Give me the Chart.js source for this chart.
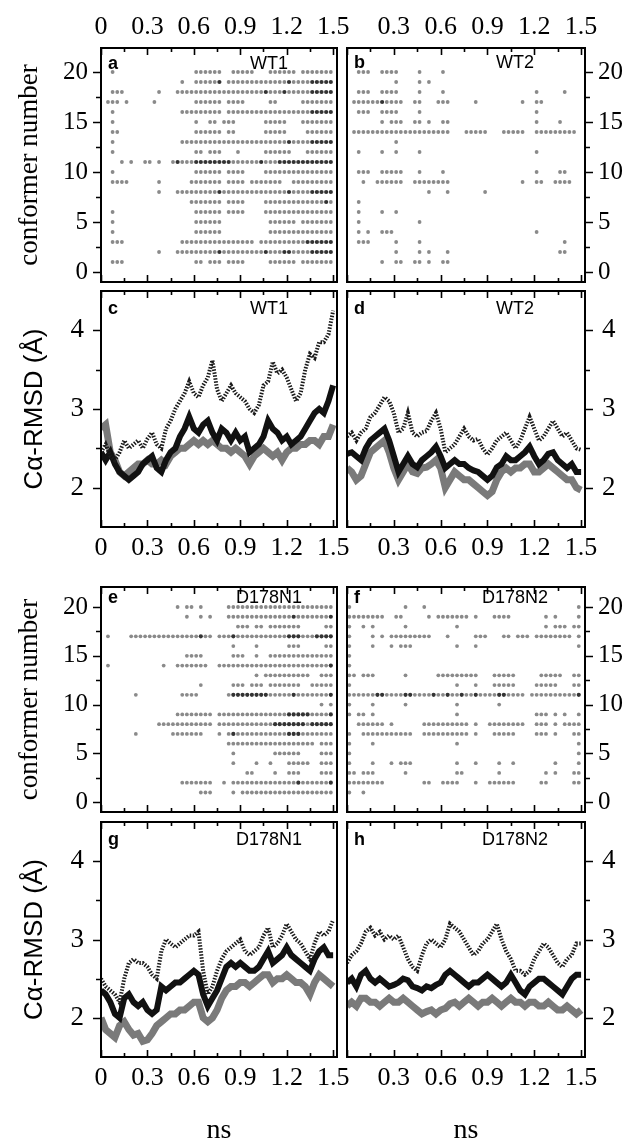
<!DOCTYPE html>
<html>
<head>
<meta charset="utf-8">
<script src="https://cdn.jsdelivr.net/npm/chart.js@4.4.1/dist/chart.umd.min.js"></script>
<style>
  html, body { margin: 0; padding: 0; background: #fff; }
  #wrap { position: relative; width: 630px; height: 1142px; overflow: hidden; background: #fff; }
  #wrap canvas { position: absolute; }
</style>
</head>
<body>
<div id="wrap"></div>
<script>
// ---- data ----

// sample times of the RMSD traces (ns)
const time = [0,0.03,0.06,0.09,0.12,0.15,0.18,0.21,0.24,0.27,0.3,0.33,0.36,0.39,0.42,0.45,0.48,0.51,0.54,0.57,0.6,
  0.63,0.66,0.69,0.72,0.75,0.78,0.81,0.84,0.87,0.9,0.93,0.96,0.99,1.02,1.05,1.08,1.11,1.14,1.17,1.2,
  1.23,1.26,1.29,1.32,1.35,1.38,1.41,1.44,1.47,1.5];

// centre of each time bin in the conformer panels (ns)
const binTimes = [0.015,0.045,0.075,0.105,0.135,0.165,0.195,0.225,0.255,0.285,0.315,0.345,0.375,0.405,0.435,
  0.465,0.495,0.525,0.555,0.585,0.615,0.645,0.675,0.705,0.735,0.765,0.795,0.825,0.855,0.885,0.915,0.945,
  0.975,1.005,1.035,1.065,1.095,1.125,1.155,1.185,1.215,1.245,1.275,1.305,1.335,1.365,1.395,1.425,1.455,1.485];

// conformer ids, top row first
const conformerIds = [20,19,18,17,16,15,14,13,12,11,10,9,8,7,6,5,4,3,2,1];

// tick labels
const timeLabels = [0, 0.3, 0.6, 0.9, 1.2, 1.5];
const timeLabelsRight = [0.3, 0.6, 0.9, 1.2, 1.5];
const timeMinor = [0, 0.15, 0.3, 0.45, 0.6, 0.75, 0.9, 1.05, 1.2, 1.35, 1.5];
const conformerTicks = [0, 5, 10, 15, 20];
const conformerMinor = [2.5, 7.5, 12.5, 17.5];
const rmsdTicks = [2, 3, 4];
const rmsdMinor = [2.5, 3.5];

// conformer occupancy: one string per conformer, one char per bin ('o' visited, '#' many hits)
const wt1Conformers = [
  '..o....... .......... oooooo..oo ooo...oooo oo.ooooooo',
  '.......... .......o.. ooooo#.ooo oooooooooo #oooo#####',
  '..ooo..... ..o...oooo oooooooooo ooooo#ooo# ooooo#####',
  '.ooo.o.... .o........ oooooo.ooo o.....oo.. ...ooooooo',
  '..o....... .......ooo oooooo.ooo oooooooooo ooooo#####',
  '..o....... .......... o..oo.ooo. .....ooooo ...ooooooo',
  '..oo...... .......... oooooo.oo. .....ooooo ....oooooo',
  '..o....... .......ooo oooooooooo oooooooooo #oooo#####',
  '..o....... .......... oo.ooo...o .....ooooo o...oooooo',
  '....o.o..o o.o..o#ooo ########oo oooo#ooo## ##########',
  '..o....... .......... oooooo.ooo o....ooooo oooooooooo',
  '..oooo.... ..o......o oooooo.ooo o.ooooooo. .ooooooooo',
  '.......... ..o...oooo ooooo#oooo oooooooooo #oooo#####',
  '.......... .........o oooooo.ooo o....ooooo oooooooo#o',
  '..o....... .......... oooooo.ooo o....ooooo oooooooooo',
  '..o....... .......... oooooo.... ......oooo oo.ooooooo',
  '..o....... .......... oooooo.... ......oooo oooooooooo',
  '..ooo..... .......ooo oooooooooo ooo.oooooo oooo######',
  '.......... ..o...oooo ooooo#oooo ooooo#ooo# #oooo#####',
  '..ooo..... .......... oo.ooo.ooo o.....oooo oo.ooooooo'
];
const wt2Conformers = [
  '..ooo..ooo o....o.... o......... .......... ..........',
  '.......... o....o.o.. .......... .......... ..........',
  '..ooo..ooo o....o.... o......... .......... o.....o...',
  '.oooooo#oo oo..oo...o oo.....o.. .......o.. oo........',
  '..ooo..ooo o....o.... .......... .......... o.........',
  '.......o.o oo..oo.o.. oo........ .......... o....o....',
  '.ooooooooo oooooooooo oo...ooooo ...ooooo.. ooooooooo.',
  '.......... o......... .......... .......... ..........',
  '..o....o.. o....o.... .......... .......... o.........',
  '.......... .......... .......... .......... ..........',
  '..ooo..ooo oo...o.... o......... .......... o....oo...',
  '...o..oooo oo..oooooo oo........ .......o.. oo..oooo..',
  '.......... .......o.. .o.......o .......... ..........',
  '..o....... .......... .......... .......... ..........',
  '..o....o.. o......... .......... .......... ..........',
  '..o....... .....o.... .......... .......... ..........',
  '..o.o..ooo .......... .......... .......... o.........',
  '..ooo..... o....o.... .......... .......... ......o...',
  '.......... o....o.o.. .o........ .......... .....oo...',
  '.......o.. oo..oo.o.. oo........ .......... ..........'
];
const d178n1Conformers = [
  '.......... ......o.oo .o.....ooo oooooooooo oooooooooo',
  '.......... ........o. .o.o...ooo oooooooooo o#ooooooo#',
  '.......... .......... .........o oo.oo.oooo ooo.....oo',
  '.o....oooo oooooooooo o#oo.ooo#o oooooooooo ###ooo####',
  '.......... .......... ........o. ...o...... ooo.....oo',
  '.......... ........oo oo......oo o..o..oooo oooooooooo',
  '.o........ ...o..oooo ooo..ooooo oooooooooo ooooooooo#',
  '.......... .......... .......... ...o.ooooo ooooo..ooo',
  '.......... .......... .o......oo o.ooo.oooo ooo..ooooo',
  '.......o.. .......ooo o......o## ######oooo o#ooooooo#',
  '.......... .......... .......... .......... .......o.o',
  '.......... ......oooo oooo.ooooo oooooooooo #####oooo#',
  '.......... ..oooooooo oooo.ooooo ooooooo### ####o#####',
  '.......o.. .....ooooo oo...o.o#o oooooooooo ###ooooooo',
  '.......... .......... .......ooo oooooooooo oooooo.ooo',
  '.......... .......... ........o. .......ooo ooo....ooo',
  '.......... .......... ........o. ...o..o... ooooo..ooo',
  '.......... .......... .......... .oo....o.. ooo....ooo',
  '.......... .......ooo oooo..o.oo oooooooooo oo#oooooo#',
  '.......... .......... .ooo....o. oooooooooo oooooooooo'
];
const d178n2Conformers = [
  'o......... ..o...o... .......... .......... .........o',
  'oooooooo.. oo.....o.o oooooo.o.. .oooo..... ..o.o....o',
  'o..o.o.... ..o....... ...o...... .......... ..o.ooo.oo',
  'o....o.o.o oooooooo.. .o.....ooo ...oo.ooo. oooooooo.o',
  'o....o...o .ooo...... ...o...o.. .......... .........o',
  'o......... .......... .......... .......... ..........',
  'o......... .......... .......... .......... ..........',
  'oo.ooo.... ..o......o oooooooo.. .ooooo.... .ooooo..oo',
  'o......... .......... ...o...o.. .ooooo.... ooooo...oo',
  'oooooo##oo oo##oooo#o o#oo#oo#oo oo##oooo.o ooooooooo#',
  'o....o.... ..o....... ...o...... ..o....... ..........',
  'o.oo.o.... .......... ...o...... .......... ooo.o.o..o',
  '..oooooo.o ......oooo oooooo.o.. oooooooo.. ooo.o.oooo',
  'o..ooooooo oooo..oooo oooooo.o.. .ooooo.... ooo.o...oo',
  'o....o.... .......... ...o...... .......... .........o',
  'o......... .......... .......... .......... .........o',
  'o....o...o .ooo...... ...o...o.. ..o..o.... ....o....o',
  'oo.ooo.... ..o....... ...oo..... ..o....... ..o.o...oo',
  'oooooooo.. ......oo.. oooo...o.. oooooo.... .oo.....oo',
  'o..o...... .......... .......... .......... ..........'
];

// C-alpha RMSD traces (Angstrom), sampled at `time`
const wt1Dotted = [2.45,2.55,2.4,2.35,2.45,2.6,2.5,2.55,2.6,2.5,2.62,2.7,2.55,2.5,2.75,2.85,3.0,3.1,3.2,3.35,
  3.2,3.15,3.3,3.4,3.62,3.25,3.1,3.2,3.3,3.2,3.15,3.1,3.0,2.95,3.05,3.3,3.35,3.6,3.45,3.5,
  3.4,3.25,3.1,3.2,3.5,3.7,3.65,3.85,3.85,3.95,4.25];
const wt1Black = [2.45,2.35,2.45,2.3,2.2,2.15,2.1,2.15,2.2,2.3,2.35,2.4,2.25,2.2,2.35,2.45,2.5,2.65,2.75,2.9,
  2.75,2.7,2.8,2.85,2.7,2.6,2.75,2.7,2.6,2.7,2.6,2.65,2.45,2.5,2.55,2.65,2.85,2.75,2.7,2.6,
  2.65,2.55,2.6,2.65,2.75,2.85,2.95,3.0,2.95,3.1,3.3];
const wt1Gray = [2.75,2.8,2.45,2.35,2.2,2.15,2.2,2.25,2.3,2.3,2.35,2.3,2.3,2.35,2.3,2.4,2.45,2.5,2.5,2.55,
  2.6,2.55,2.6,2.55,2.6,2.55,2.5,2.5,2.45,2.5,2.45,2.4,2.3,2.4,2.45,2.5,2.45,2.4,2.45,2.35,
  2.45,2.5,2.5,2.55,2.55,2.6,2.6,2.55,2.65,2.65,2.8];

const wt2Dotted = [2.65,2.7,2.6,2.7,2.75,2.9,2.95,3.05,3.15,3.1,2.95,2.7,2.75,2.95,2.7,2.65,2.7,2.72,2.85,2.95,
  2.75,2.45,2.5,2.55,2.65,2.75,2.65,2.6,2.62,2.5,2.42,2.5,2.6,2.65,2.7,2.6,2.5,2.6,2.75,2.9,
  2.75,2.6,2.65,2.75,2.85,2.75,2.65,2.7,2.6,2.5,2.48];
const wt2Black = [2.43,2.45,2.4,2.35,2.5,2.6,2.65,2.7,2.75,2.6,2.4,2.2,2.3,2.4,2.3,2.26,2.35,2.4,2.45,2.52,
  2.4,2.25,2.3,2.35,2.3,2.3,2.25,2.22,2.2,2.15,2.1,2.15,2.26,2.3,2.4,2.35,2.35,2.4,2.45,2.52,
  2.4,2.3,2.35,2.43,2.45,2.35,2.3,2.25,2.3,2.2,2.2];
const wt2Gray = [2.25,2.2,2.1,2.15,2.3,2.45,2.5,2.55,2.6,2.45,2.25,2.1,2.2,2.3,2.2,2.18,2.25,2.26,2.3,2.35,
  2.25,2.0,2.1,2.2,2.15,2.1,2.1,2.05,2.0,1.95,1.9,1.95,2.1,2.2,2.25,2.2,2.25,2.25,2.3,2.3,
  2.2,2.2,2.25,2.3,2.25,2.2,2.15,2.1,2.1,2.0,1.97];

const d178n1Dotted = [2.5,2.4,2.35,2.3,2.2,2.5,2.7,2.75,2.7,2.7,2.65,2.55,2.5,2.85,3.0,2.95,2.9,2.95,3.0,3.05,
  3.05,3.1,2.6,2.3,2.4,2.6,2.75,2.85,2.9,2.95,3.0,2.85,2.8,2.85,2.9,3.05,3.15,2.9,2.95,3.05,
  3.2,3.1,3.0,2.95,2.85,2.75,2.95,3.1,3.05,3.1,3.25];
const d178n1Black = [2.35,2.3,2.2,2.05,2.0,2.25,2.3,2.2,2.15,2.2,2.1,2.05,2.1,2.4,2.35,2.4,2.45,2.45,2.5,2.55,
  2.6,2.55,2.3,2.15,2.25,2.35,2.5,2.65,2.7,2.65,2.7,2.65,2.6,2.6,2.65,2.75,2.85,2.7,2.75,2.8,
  2.9,2.8,2.75,2.7,2.65,2.6,2.75,2.85,2.9,2.8,2.8];
const d178n1Gray = [2.0,1.85,1.8,1.75,1.9,1.95,1.85,1.78,1.8,1.7,1.72,1.8,1.9,1.95,2.0,2.05,2.05,2.1,2.1,2.15,
  2.2,2.2,2.0,1.95,2.0,2.1,2.25,2.35,2.4,2.4,2.45,2.45,2.4,2.45,2.5,2.55,2.55,2.45,2.5,2.5,
  2.55,2.5,2.45,2.45,2.4,2.3,2.45,2.55,2.5,2.45,2.4];

const d178n2Dotted = [2.7,2.8,2.85,2.95,3.1,3.15,3.05,3.1,3.0,3.05,3.0,3.05,2.9,2.75,2.65,2.6,2.8,2.95,3.0,2.95,
  2.9,3.0,3.2,3.15,3.1,3.0,2.9,2.8,2.85,2.95,3.0,3.1,3.2,3.0,2.85,2.75,2.6,2.6,2.55,2.6,
  2.75,2.85,2.95,2.9,2.8,2.7,2.65,2.75,2.8,2.95,2.95];
const d178n2Black = [2.45,2.5,2.4,2.55,2.6,2.5,2.45,2.5,2.45,2.4,2.42,2.45,2.5,2.48,2.4,2.38,2.35,2.4,2.38,2.42,
  2.45,2.55,2.6,2.55,2.5,2.45,2.4,2.45,2.45,2.5,2.55,2.5,2.45,2.4,2.45,2.55,2.45,2.35,2.3,2.4,
  2.45,2.5,2.5,2.45,2.4,2.35,2.3,2.4,2.5,2.55,2.55];
const d178n2Gray = [2.15,2.2,2.15,2.25,2.25,2.2,2.2,2.15,2.2,2.25,2.2,2.2,2.25,2.2,2.15,2.1,2.05,2.08,2.1,2.05,
  2.1,2.12,2.18,2.2,2.15,2.2,2.25,2.2,2.15,2.2,2.2,2.25,2.2,2.15,2.2,2.25,2.2,2.2,2.15,2.2,
  2.2,2.15,2.15,2.2,2.15,2.1,2.1,2.15,2.1,2.05,2.1];

// ---- drawing ----
const SERIF = '"Liberation Serif", "Times New Roman", serif';
const SANS = '"Liberation Sans", Arial, sans-serif';
const wrap = document.getElementById('wrap');

// two columns, four rows of panels
const cols = [
  { x: 0, w: 357, padL: 0, padR: 20, yPos: 'left', axisW: 101 },
  { x: 342, w: 288, padL: 5, padR: 0, yPos: 'right', axisW: 45 }
];
const rows = [
  { y: 0, h: 286, xPos: 'top', axisH: 48, padT: 0, padB: 4, kind: 'conf', yMin: -1, yMax: 22.4 },
  { y: 286, h: 274, xPos: 'bottom', axisH: 33, padT: 5, padB: 0, kind: 'rmsd', yMin: 1.5, yMax: 4.5 },
  { y: 560, h: 257, xPos: null, axisH: 0, padT: 27, padB: 5, kind: 'conf', yMin: -1, yMax: 22.05 },
  { y: 817, h: 325, xPos: 'bottom', axisH: 85, padT: 5, padB: 0, kind: 'rmsd', yMin: 1.5, yMax: 4.5, ns: true }
];

function dots(rowsOfBins, mark) {
  const pts = [];
  rowsOfBins.forEach((s, i) => {
    const cells = s.replace(/ /g, '');
    for (let k = 0; k < cells.length; k++) {
      if (cells[k] === mark) pts.push({ x: binTimes[k], y: conformerIds[i] });
    }
  });
  return pts;
}

function trace(values) {
  return values.map((v, i) => ({ x: time[i], y: v }));
}

function confSets(rowsOfBins) {
  return [
    { data: dots(rowsOfBins, '#'), backgroundColor: '#333', pointRadius: 2.1, pointBorderWidth: 0, order: 1 },
    { data: dots(rowsOfBins, 'o'), backgroundColor: '#8a8a8a', pointRadius: 1.9, pointBorderWidth: 0, order: 2 }
  ];
}

function rmsdSets(dotted, black, gray) {
  return [
    { data: trace(dotted), borderColor: '#1a1a1a', borderWidth: 4, borderDash: [1.5, 1.5], pointRadius: 0, order: 1 },
    { data: trace(black), borderColor: '#111', borderWidth: 6, pointRadius: 0, order: 2 },
    { data: trace(gray), borderColor: '#7a7a7a', borderWidth: 7, pointRadius: 0, order: 3 }
  ];
}

// frame, inward time ticks, outward value ticks and panel captions
const frameTicks = {
  id: 'frameTicks',
  afterDraw(chart, args, o) {
    const { ctx, chartArea: a, scales: { x, y } } = chart;
    ctx.save();
    ctx.strokeStyle = '#000';
    ctx.lineWidth = 2;
    ctx.strokeRect(a.left, a.top, a.right - a.left, a.bottom - a.top);
    ctx.lineWidth = 1.6;
    ctx.beginPath();
    timeMinor.forEach(v => {
      const px = Math.round(x.getPixelForValue(v)) + 0.5;
      const len = timeLabels.includes(v) ? 7 : 4;
      ctx.moveTo(px, a.bottom); ctx.lineTo(px, a.bottom - len);
      ctx.moveTo(px, a.top); ctx.lineTo(px, a.top + len);
    });
    const dir = o.side === 'left' ? -1 : 1;
    const x0 = o.side === 'left' ? a.left : a.right;
    o.major.forEach(v => {
      const py = Math.round(y.getPixelForValue(v)) + 0.5;
      ctx.moveTo(x0, py); ctx.lineTo(x0 + dir * 8, py);
    });
    o.minor.forEach(v => {
      const py = Math.round(y.getPixelForValue(v)) + 0.5;
      ctx.moveTo(x0, py); ctx.lineTo(x0 + dir * 5, py);
    });
    ctx.stroke();
    ctx.fillStyle = '#000';
    ctx.textBaseline = 'middle';
    ctx.textAlign = 'left';
    ctx.font = 'bold 18px ' + SANS;
    ctx.fillText(o.letter, a.left + 7, a.top + o.dy);
    ctx.textAlign = 'center';
    ctx.font = '18px ' + SANS;
    ctx.fillText(o.name, a.left + 168, a.top + o.dy);
    ctx.restore();
  }
};

const panels = [
  { letter: 'a', name: 'WT1', col: 0, row: 0, dy: 16, sets: confSets(wt1Conformers) },
  { letter: 'b', name: 'WT2', col: 1, row: 0, dy: 15, sets: confSets(wt2Conformers) },
  { letter: 'c', name: 'WT1', col: 0, row: 1, dy: 18, sets: rmsdSets(wt1Dotted, wt1Black, wt1Gray) },
  { letter: 'd', name: 'WT2', col: 1, row: 1, dy: 18, sets: rmsdSets(wt2Dotted, wt2Black, wt2Gray) },
  { letter: 'e', name: 'D178N1', col: 0, row: 2, dy: 11, sets: confSets(d178n1Conformers) },
  { letter: 'f', name: 'D178N2', col: 1, row: 2, dy: 11, sets: confSets(d178n2Conformers) },
  { letter: 'g', name: 'D178N1', col: 0, row: 3, dy: 18, sets: rmsdSets(d178n1Dotted, d178n1Black, d178n1Gray) },
  { letter: 'h', name: 'D178N2', col: 1, row: 3, dy: 18, sets: rmsdSets(d178n2Dotted, d178n2Black, d178n2Gray) }
];

panels.forEach(p => {
  const c = cols[p.col], r = rows[p.row];
  const conf = r.kind === 'conf';
  const canvas = document.createElement('canvas');
  canvas.width = c.w; canvas.height = r.h;
  canvas.style.left = c.x + 'px'; canvas.style.top = r.y + 'px';
  canvas.style.width = c.w + 'px'; canvas.style.height = r.h + 'px';
  wrap.appendChild(canvas);

  const yTitle = p.col === 0
    ? (conf
      ? { display: true, text: 'conformer number', color: '#000', padding: 16, font: { family: SERIF, size: 27, lineHeight: 1 } }
      : { display: true, text: 'Cα-RMSD (Å)', color: '#000', padding: 22, font: { family: SANS, size: 26, lineHeight: 1 } })
    : { display: false };

  new Chart(canvas, {
    type: conf ? 'scatter' : 'line',
    data: { datasets: p.sets },
    options: {
      responsive: false,
      animation: false,
      devicePixelRatio: 1,
      events: [],
      layout: { autoPadding: false, padding: { left: c.padL, right: c.padR, top: r.padT, bottom: r.padB } },
      elements: { line: { tension: 0 } },
      plugins: {
        legend: { display: false },
        tooltip: { enabled: false },
        frameTicks: {
          side: c.yPos, letter: p.letter, name: p.name, dy: p.dy,
          major: conf ? conformerTicks : rmsdTicks,
          minor: conf ? conformerMinor : rmsdMinor
        }
      },
      scales: {
        x: {
          type: 'linear', min: 0, max: 1.525,
          position: r.xPos || 'bottom', display: r.xPos !== null,
          grid: { display: false, drawTicks: false }, border: { display: false },
          afterBuildTicks: s => { s.ticks = (p.col === 0 ? timeLabels : timeLabelsRight).map(v => ({ value: v })); },
          afterFit: s => { s.height = r.axisH; s.paddingLeft = 0; s.paddingRight = 0; },
          ticks: { padding: 8, color: '#000', maxRotation: 0, autoSkip: false,
            font: { family: SERIF, size: 26, lineHeight: 1 }, callback: v => String(v) },
          title: { display: !!r.ns, text: 'ns', color: '#000', padding: 0,
            font: { family: SERIF, size: 28, lineHeight: 0.8 } }
        },
        y: {
          type: 'linear', min: r.yMin, max: r.yMax, position: c.yPos,
          grid: { display: false, drawTicks: false }, border: { display: false },
          afterBuildTicks: s => { s.ticks = (conf ? conformerTicks : rmsdTicks).map(v => ({ value: v })); },
          afterFit: s => { s.width = c.axisW; s.paddingTop = 0; s.paddingBottom = 0; },
          ticks: { padding: conf ? 13 : 17, color: '#000', autoSkip: false,
            font: { family: SERIF, size: conf ? 25 : 27, lineHeight: 1 } },
          title: yTitle
        }
      }
    },
    plugins: [frameTicks]
  });
});
</script>
</body>
</html>
